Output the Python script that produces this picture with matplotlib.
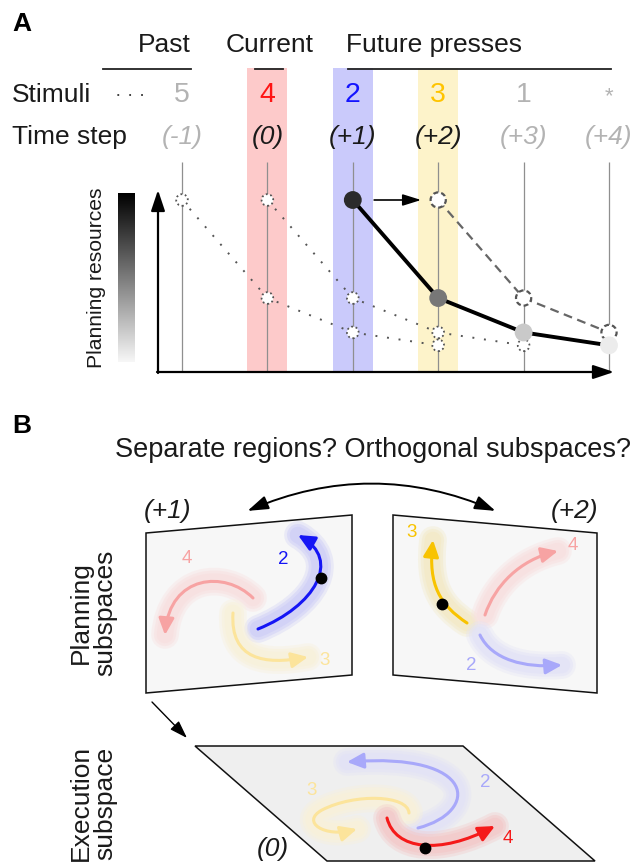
import numpy as np
import matplotlib
matplotlib.use('Agg')
import matplotlib.pyplot as plt
from matplotlib.path import Path
from matplotlib.patches import Polygon, Rectangle, FancyArrowPatch, PathPatch, ArrowStyle
from matplotlib.transforms import Affine2D, blended_transform_factory
from matplotlib.colors import LinearSegmentedColormap

plt.rcParams['font.family'] = ['Liberation Sans', 'DejaVu Sans']
plt.rcParams['font.weight'] = 'normal'

# ---------------- data ----------------
steps = [-1, 0, 1, 2, 3, 4]
stimuli = ['5', '4', '2', '3', '1', '*']
step_labels = ['(-1)', '(0)', '(+1)', '(+2)', '(+3)', '(+4)']
stim_colors = ['#b3b3b3', '#ff1414', '#1414ff', '#ffc400', '#b3b3b3', '#b3b3b3']
label_colors = ['#b3b3b3', '#1a1a1a', '#1a1a1a', '#1a1a1a', '#b3b3b3', '#b3b3b3']
highlight_steps = [0, 1, 2]
band_colors = ['#fdcaca', '#cacafb', '#fdf3ca']
# planning resources allotted to the press 1, 2, 3, 4 steps ahead
resource_levels = [1.0, 0.43, 0.23, 0.155]
current_start = 1      # solid profile (planning at current time)
next_start = 2         # dashed profile (after next press)
past_starts = [-1, 0]  # dotted profiles (earlier times)
point_greys = ['#2b2b2b', '#777777', '#c9c9c9', '#ececec']

# ---------------- figure ----------------
fig = plt.figure(figsize=(6.36, 8.63), dpi=100)
ax = fig.add_axes([0, 0, 1, 1])
ax.set_xlim(0, 636)
ax.set_ylim(863, 0)
ax.axis('off')

# transform: (time step, resource) -> figure pixel space
tA = Affine2D().scale(85.4, -172).translate(182 + 85.4, 372) + ax.transData
blend = blended_transform_factory(tA, ax.transData)

FS = 19
TXT = '#1a1a1a'
# ---- Panel A header ----
ax.text(12, 24, 'A', fontsize=19, fontweight='bold', ha='left', va='center')
ax.text(191, 52, 'Past', fontsize=FS, ha='right', va='baseline', color=TXT)
ax.text(226, 52, 'Current', fontsize=FS, ha='left', va='baseline', color=TXT)
ax.text(346, 52, 'Future presses', fontsize=FS, ha='left', va='baseline', color=TXT)
ax.plot([103, 191], [69, 69], color='#222', lw=1.3)
ax.plot([255, 283], [69, 69], color='#222', lw=1.3)
ax.plot([348, 611], [69, 69], color='#222', lw=1.3)

ax.text(12, 102, 'Stimuli', fontsize=FS, ha='left', va='baseline', color=TXT)
ax.text(130, 96, '\u00b7 \u00b7 \u00b7', fontsize=14, ha='center', va='center', color='#444')
ax.text(12, 144, 'Time step', fontsize=FS, ha='left', va='baseline', color=TXT)

# bands
for s, c in zip(highlight_steps, band_colors):
    ax.add_patch(Rectangle((s - 0.235, 68), 0.47, 304, transform=blend,
                           facecolor=c, edgecolor='none', zorder=0))

for s, st, sc, lab, lc in zip(steps, stimuli, stim_colors, step_labels, label_colors):
    if st == '*':
        ax.text(s, 97, st, fontsize=16, color=sc, ha='center', va='center', transform=blend)
    else:
        ax.text(s, 102, st, fontsize=20.5, color=sc, ha='center', va='baseline', transform=blend)
    ax.text(s, 144, lab, fontsize=19, color=lc, ha='center', va='baseline',
            style='italic', transform=blend)

# vertical grid lines
ax.vlines(steps, 162, 372, transform=blend, colors='#8f8f8f', lw=0.9, zorder=1)

# axes arrows
ax.annotate('', xy=(158, 190), xytext=(158, 373),
            arrowprops=dict(arrowstyle='-|>,head_length=0.9,head_width=0.3', lw=1.6, color='k',
                            shrinkA=0, shrinkB=0, mutation_scale=14))
ax.annotate('', xy=(614, 372), xytext=(157, 372),
            arrowprops=dict(arrowstyle='-|>,head_length=0.9,head_width=0.3', lw=1.6, color='k',
                            shrinkA=0, shrinkB=0, mutation_scale=14))

# gradient bar
cmap = LinearSegmentedColormap.from_list('g', ['#000000', '#f7f7f7'])
grad = np.linspace(0, 1, 256)[:, None]
ax.imshow(grad, cmap=cmap, extent=(118, 135, 362, 193), aspect='auto', origin='upper', zorder=1)
ax.set_xlim(0, 636)
ax.set_ylim(863, 0)
ax.text(97, 278, 'Planning resources', fontsize=15.2, rotation=90, ha='center', va='center',
        color=TXT)

# dotted past profiles
for p in past_starts:
    xs = [p + i for i in range(len(resource_levels))]
    ax.plot(xs, resource_levels, transform=tA, ls=(0, (1, 5)), lw=1.4, color='#555', zorder=2)
    ax.scatter(xs, resource_levels, s=70, facecolor='white', edgecolor='#555',
               linestyle=(0, (1, 1.5)), linewidths=1.3, transform=tA, zorder=3)

# dashed next profile
nxs = [next_start + i for i in range(3)]
ax.plot(nxs, resource_levels[:3], transform=tA, ls=(0, (4, 2.5)), lw=1.6, color='#666', zorder=4)
ax.scatter(nxs, resource_levels[:3], s=120, facecolor='white', edgecolor='#555',
           linestyle=(0, (2.2, 1.4)), linewidths=1.6, transform=tA, zorder=5)

# solid current profile
cxs = [current_start + i for i in range(len(resource_levels))]
ax.plot(cxs, resource_levels, transform=tA, lw=2.8, color='k', zorder=6)
ax.scatter(cxs, resource_levels, s=165, c=point_greys, edgecolors='none', transform=tA, zorder=7)

# arrow from current to next
ax.annotate('', xy=(next_start - 0.2, resource_levels[0]), xycoords=tA,
            xytext=(current_start + 0.25, resource_levels[0]), textcoords=tA,
            arrowprops=dict(arrowstyle='-|>,head_length=0.8,head_width=0.25', lw=1.2, color='k',
                            shrinkA=0, shrinkB=0, mutation_scale=14))

# ---------------- Panel B ----------------
ax.text(12, 426, 'B', fontsize=19, fontweight='bold', ha='left', va='center')
ax.text(373, 457, 'Separate regions? Orthogonal subspaces?', fontsize=19.5, ha='center',
        va='baseline', color=TXT)

ax.add_patch(Polygon([(146, 533), (352, 515), (352, 675), (146, 693)], closed=True,
                     facecolor='#f7f7f7', edgecolor='#111', lw=1.1))
ax.add_patch(Polygon([(393, 515), (597, 533), (597, 693), (393, 675)], closed=True,
                     facecolor='#f7f7f7', edgecolor='#111', lw=1.1))
ax.add_patch(Polygon([(195, 746), (463, 746), (595, 861), (327, 861)], closed=True,
                     facecolor='#efefef', edgecolor='#111', lw=1.1))

ax.text(168, 511, '(+1)', fontsize=FS, style='italic', ha='center', va='center', color=TXT)
ax.text(575, 511, '(+2)', fontsize=FS, style='italic', ha='center', va='center', color=TXT)
ax.text(273, 849, '(0)', fontsize=FS, style='italic', ha='center', va='center', color=TXT)

ax.text(93, 613, 'Planning\nsubspaces', fontsize=FS, rotation=90, ha='center', va='center',
        multialignment='center', linespacing=1.0, color=TXT)
ax.text(93, 803, 'Execution\nsubspace', fontsize=FS, rotation=90, ha='center', va='center',
        multialignment='center', linespacing=1.0, color=TXT)

# double curved arrow
ax.add_patch(FancyArrowPatch((245, 512), (498, 512), connectionstyle='arc3,rad=-0.22',
                             arrowstyle='<|-|>,head_length=0.9,head_width=0.3', lw=1.4, color='k',
                             mutation_scale=14))
# arrow from planning to execution
ax.annotate('', xy=(187, 738), xytext=(152, 702),
            arrowprops=dict(arrowstyle='-|>,head_length=0.9,head_width=0.3', lw=1.0, color='k',
                            shrinkA=0, shrinkB=0, mutation_scale=12))


def stroke(pts, color, halo, lw=2.2, head=0.9):
    n = len(pts)
    codes = [Path.MOVETO] + [Path.CURVE4] * (n - 1)
    path = Path(pts, codes)
    for w, a in [(20, 0.35), (16, 0.5), (12, 0.7)]:
        ax.add_patch(PathPatch(path, fill=False, edgecolor=halo, lw=w, alpha=a,
                               capstyle='round', joinstyle='round', zorder=3))
    ax.add_patch(FancyArrowPatch(path=path,
                                 arrowstyle=ArrowStyle('-|>', head_length=head, head_width=0.42),
                                 mutation_scale=11, lw=lw, color=color, zorder=4,
                                 capstyle='round'))


BLUE, RED, YEL = '#1515f5', '#f51a1a', '#f8c300'
fBLUE, fRED, fYEL = '#a8a8fa', '#f7a3a3', '#fce49b'
hBLUE, hRED, hYEL = '#cfcff6', '#f3c9c9', '#f3eac6'
fhBLUE, fhRED, fhYEL = '#e3e3f6', '#f8e0e0', '#f8f1da'

# left planning (+1)
stroke([(258, 629), (315, 606), (342, 560), (298, 535)], BLUE, hBLUE)
stroke([(253, 598), (225, 570), (170, 575), (165, 635)], fRED, fhRED)
stroke([(233, 613), (230, 660), (265, 665), (308, 657)], fYEL, fhYEL)
ax.plot(321, 578, 'o', color='k', ms=7.5, zorder=6)
ax.text(283, 559, '2', fontsize=13.5, color=BLUE, ha='center', va='center')
ax.text(187, 558, '4', fontsize=13.5, color=fRED, ha='center', va='center')
ax.text(325, 660, '3', fontsize=13.5, color=fYEL, ha='center', va='center')

# right planning (+2)
stroke([(467, 623), (440, 605), (428, 585), (433, 540)], YEL, hYEL)
stroke([(485, 615), (495, 585), (520, 560), (558, 551)], fRED, fhRED)
stroke([(480, 635), (492, 660), (525, 668), (562, 665)], fBLUE, fhBLUE)
ax.plot(442, 604, 'o', color='k', ms=7.5, zorder=6)
ax.text(412, 532, '3', fontsize=13.5, color=YEL, ha='center', va='center')
ax.text(573, 545, '4', fontsize=13.5, color=fRED, ha='center', va='center')
ax.text(471, 665, '2', fontsize=13.5, color=fBLUE, ha='center', va='center')

# execution (0)
stroke([(418, 828), (480, 812), (478, 752), (347, 762)], fBLUE, fhBLUE)
stroke([(409, 813), (408, 795), (355, 793), (322, 810), (300, 822), (325, 838), (357, 829)],
       fYEL, fhYEL)
stroke([(387, 818), (395, 850), (440, 855), (495, 826)], RED, hRED)
ax.plot(425, 848, 'o', color='k', ms=7.5, zorder=6)
ax.text(485, 782, '2', fontsize=13.5, color=fBLUE, ha='center', va='center')
ax.text(312, 790, '3', fontsize=13.5, color=fYEL, ha='center', va='center')
ax.text(508, 838, '4', fontsize=13.5, color=RED, ha='center', va='center')

fig.savefig('out.png', dpi=100)
